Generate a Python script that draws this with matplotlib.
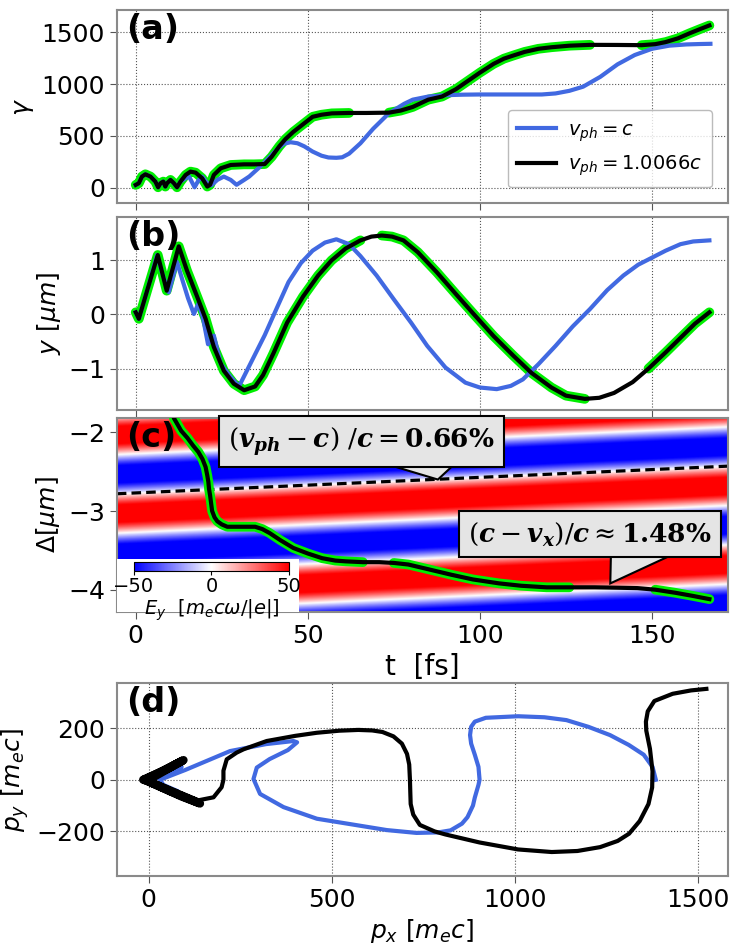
import numpy as np
import matplotlib
matplotlib.use('Agg')
import matplotlib.pyplot as plt
from matplotlib.patches import Rectangle, Polygon

plt.rcParams['font.family'] = ['DejaVu Sans']
plt.rcParams['mathtext.fontset'] = 'dejavusans'

blue = 'royalblue'
green = '#00ee00'

# ---- (a) gamma vs t ----
t_ga_blue = [0, 0.9, 1.8, 2.8, 4.3, 5.7, 6.5, 7.2, 8.0, 8.6, 9.1, 10.1, 11.1, 12, 13, 14.5, 15.5, 17.1,
             18.3, 19.3, 20.8, 22, 23.7, 25.6, 27.6, 29.3, 31.5, 33, 36, 39, 41, 43, 45, 47, 49, 51.4,
             54, 56, 58.3, 60, 62, 65.3, 69, 73.6, 78, 80.5, 85, 90, 95, 100, 106, 112, 118, 122, 126,
             130, 135, 140, 145, 150, 155, 160, 164, 167]
ga_blue = [29, 45, 109, 131, 109, 61, 6, 45, 61, 13, 45, 77, 45, 6, 61, 93, 110, 6,
           77, 109, 45, 25, 77, 109, 77, 30, 77, 110, 200, 300, 370, 425, 440, 430, 400, 350,
           310, 293, 290, 295, 330, 430, 570, 720, 810, 850, 880, 893, 898, 900, 900, 900, 900, 910, 935,
           975, 1070, 1190, 1280, 1340, 1370, 1382, 1386, 1388]

t_ga_black = [0, 0.9, 1.8, 2.8, 4.3, 5.7, 6.5, 7.2, 8.0, 8.6, 9.1, 10.1, 11.1, 12, 13, 14.5, 15.9, 17.4,
              19.3, 20.8, 21.6, 22.7, 24.7, 27.6, 31.5, 34.4, 37.5, 39.5, 41.7, 43.5, 45.8, 48.5, 51.4,
              54, 57, 62, 67, 73.6, 77, 80.5, 85, 89, 93, 96.5, 100, 104, 107, 109.7, 113, 117, 120.8,
              126, 132, 140, 147, 151, 154, 157.5, 161, 164, 166.7]
ga_black = [29, 45, 109, 131, 109, 61, 6, 45, 61, 13, 45, 77, 45, 6, 61, 125, 157, 147,
            93, 13, 30, 125, 189, 221, 227, 227, 230, 300, 400, 470, 540, 610, 685,
            705, 718, 722, 722, 725, 745, 780, 850, 880, 950, 1030, 1110, 1195, 1245, 1275, 1310, 1340, 1355,
            1370, 1378, 1377, 1375, 1385, 1405, 1440, 1490, 1530, 1565]

# ---- (b) y vs t ----
t_y_blue = [0, 0.9, 3.3, 6.2, 7.6, 9.6, 12, 13.5, 15.2, 16.9, 18.2, 19.5, 21.0, 22.7, 24.7, 27.5, 30.0,
            33, 37.5, 41, 44.4, 48, 51.4, 55, 58.3, 62, 65.3, 70, 75, 80, 84.7, 90, 95.8, 100, 104.9,
            109, 112.5, 117, 122, 127, 132, 137, 141.7, 146, 150, 154, 158.3, 162, 166.7]
y_blue = [0.04, -0.08, 0.44, 1.1, 0.78, 0.41, 0.97, 0.65, 0.3, 0.01, 0.2, -0.05, -0.55, -0.39, -0.91,
          -1.15, -1.33, -0.95, -0.38, 0.12, 0.6, 0.95, 1.18, 1.33, 1.39, 1.3, 1.08, 0.72, 0.28, -0.15,
          -0.58, -0.98, -1.26, -1.35, -1.38, -1.32, -1.2, -0.92, -0.58, -0.22, 0.1, 0.45, 0.72, 0.92,
          1.05, 1.18, 1.3, 1.35, 1.37]

t_y_black = [0, 0.9, 3.3, 6.4, 9.0, 12.5, 14.9, 17.9, 20.3, 22.7, 25.6, 28.5, 31.5, 34.7, 37, 40, 44,
             48.6, 53, 56.9, 61, 65.3, 68.5, 71.5, 74.5, 77.8, 82, 87.5, 93, 98.6, 104, 109.7, 115,
             120.8, 125, 130.5, 134.7, 139, 144.4, 149, 154, 158, 162.5, 166.7]
y_black = [0.04, -0.08, 0.44, 1.1, 0.44, 1.26, 0.81, 0.32, -0.08, -0.6, -1.04, -1.28, -1.4, -1.33,
           -1.12, -0.72, -0.15, 0.33, 0.72, 1.0, 1.22, 1.37, 1.44, 1.46, 1.44, 1.37, 1.15, 0.78, 0.38,
           -0.02, -0.4, -0.76, -1.08, -1.35, -1.5, -1.56, -1.54, -1.45, -1.25, -1.0, -0.7, -0.45,
           -0.17, 0.04]

# ---- (c) Delta vs t ----
t_d_black = [10.5, 11.1, 13.2, 15, 16.7, 18.2, 19.4, 20.3, 20.8, 21.1, 21.3, 21.6, 22.2, 22.9, 23.7,
             25.0, 26.6, 29.2, 32, 34.7, 36.8, 38.9, 42, 45.8, 50, 54.2, 58, 61.1, 66, 70.8, 75, 79.2,
             85, 91.7, 98, 105.6, 112, 119.4, 126, 133.3, 140, 145.8, 151, 156.9, 162, 166.7]
d_black = [-1.70, -1.82, -1.98, -2.07, -2.17, -2.25, -2.34, -2.44, -2.55, -2.63, -2.72, -2.8, -3.0,
           -3.08, -3.13, -3.17, -3.2, -3.2, -3.2, -3.2, -3.23, -3.28, -3.37, -3.47, -3.54, -3.6, -3.63,
           -3.64, -3.65, -3.65, -3.66, -3.68, -3.74, -3.81, -3.87, -3.92, -3.95, -3.97, -3.97, -3.97,
           -3.975, -3.98, -4.0, -4.04, -4.08, -4.12]

# green highlighted time windows on the black trajectory
green_windows = [(0, 32), (34, 66), (71, 132), (146, 168)]

# laser field parameters for the background of (c)
field_amp = 65.0          # m_e c omega / |e|
wavelength = 1.0          # um
delta_zero = -2.77        # um, zero crossing at t = 0
drift = 0.0066 * 0.2998   # um/fs, (v_ph - c)

# callouts in (c): text, box centre, pointed-at spot
callout_texts = [r'$(\mathbfit{v_{ph}} - \mathbfit{c})\ /\mathbfit{c} = \mathbf{0.66\%}$',
                 r'$(\mathbfit{c} - \mathbfit{v_x})/\mathbfit{c} \approx \mathbf{1.48\%}$']
callout_centres = [(65.5, -2.12), (132, -3.29)]
callout_tips = [(87.8, -2.6), (137.9, -3.92)]

# ---- (d) py vs px ----
px_blue = [0, 60, 90, 30, 5, 45, 80, 40, 31, 100, 222, 320, 395, 405, 380, 330, 295, 286, 304, 368, 459,
           572, 650, 731, 790, 824, 855, 870, 885, 890, 900, 903, 900, 890, 880, 877, 880, 890, 920,
           1008, 1080, 1140, 1200, 1259, 1310, 1351, 1375, 1384]
py_blue = [0, 35, 50, 10, 0, -35, -45, -20, 0, 38, 111, 138, 150, 145, 115, 80, 47, 3, -55, -106, -151,
           -177, -195, -206, -204, -196, -170, -145, -100, -69, -20, 0, 50, 97, 140, 173, 205, 225, 240,
           246, 242, 231, 205, 173, 135, 97, 50, 0]

px_black = [0, 50, 95, 60, -5, -15, -5, 60, 140, 90, -8, -12, 40, 90, 50, -10, 55, 135, 131, 177, 199,
            204, 204, 213, 240, 259, 322, 400, 459, 520, 572, 610, 638, 668, 691, 705, 711, 713, 714,
            715, 722, 740, 780, 810, 903, 1008, 1100, 1170, 1232, 1280, 1311, 1340, 1364, 1374, 1375,
            1368, 1358, 1357, 1362, 1380, 1430, 1480, 1522]
py_black = [0, 40, 76, 50, 3, 0, -4, -45, -92, -65, -2, 2, 35, 72, 42, 0, -40, -88, -81, -68, -29,
            0, 35, 79, 105, 118, 150, 170, 182, 190, 193, 191, 185, 168, 140, 100, 59, 0, -50,
            -94, -135, -175, -200, -212, -243, -270, -280, -276, -261, -237, -209, -160, -94, -30, 33,
            120, 190, 225, 265, 305, 333, 346, 352]
n_early = 18  # points of the tight near-origin oscillations


def green_part(t, v):
    t = np.asarray(t, float)
    v = np.asarray(v, float)
    out = np.full_like(v, np.nan)
    for lo, hi in green_windows:
        m = (t >= lo) & (t <= hi)
        out[m] = v[m]
    return out


def style_axes(ax, grid=True):
    for sp in ax.spines.values():
        sp.set_color('#8a8a8a')
        sp.set_linewidth(1.5)
    ax.tick_params(labelsize=18, length=5, color='#555555')
    if grid:
        ax.grid(True, linestyle=':', color='#555555', linewidth=0.8)


fig = plt.figure(figsize=(7.44, 9.44), dpi=100)
left, width = 0.157, 0.821
ax_a = fig.add_axes([left, 0.785, width, 0.204])
ax_b = fig.add_axes([left, 0.566, width, 0.204])
ax_c = fig.add_axes([left, 0.352, width, 0.205])
ax_d = fig.add_axes([left, 0.072, width, 0.204])

tlim = (-5.5, 172)

# (a)
ax_a.plot(t_ga_black, green_part(t_ga_black, ga_black), color=green, lw=7, solid_capstyle='round')
ax_a.plot(t_ga_blue, ga_blue, color=blue, lw=3, label=r'$v_{ph} = c$')
ax_a.plot(t_ga_black, ga_black, color='black', lw=3, label=r'$v_{ph} = 1.0066c$')
ax_a.set_xlim(tlim)
ax_a.set_ylim(-145, 1710)
ax_a.set_yticks([0, 500, 1000, 1500])
ax_a.set_xticks([0, 50, 100, 150])
ax_a.set_xticklabels([])
ax_a.set_ylabel(r'$\gamma$', fontsize=18)
leg = ax_a.legend(loc='lower right', fontsize=14, handlelength=2.0, borderpad=0.5,
                  labelspacing=0.5, handletextpad=0.6, bbox_to_anchor=(0.99, 0.03))
leg.get_frame().set_edgecolor('#aaaaaa')
style_axes(ax_a)

# (b)
ax_b.plot(t_y_black, green_part(t_y_black, y_black), color=green, lw=7, solid_capstyle='round')
ax_b.plot(t_y_blue, y_blue, color=blue, lw=3)
ax_b.plot(t_y_black, y_black, color='black', lw=3)
ax_b.set_xlim(tlim)
ax_b.set_ylim(-1.76, 1.80)
ax_b.set_yticks([-1, 0, 1])
ax_b.set_xticks([0, 50, 100, 150])
ax_b.set_xticklabels([])
ax_b.set_ylabel(r'$y\ [\mu m]$', fontsize=18)
style_axes(ax_b)

# (c)
dlim = (-4.28, -1.82)
tt = np.linspace(tlim[0], tlim[1], 400)
dd = np.linspace(dlim[0], dlim[1], 300)
T, D = np.meshgrid(tt, dd)
field = -field_amp * np.sin(2 * np.pi * (D - delta_zero - drift * T) / wavelength)
im = ax_c.imshow(field, extent=[tlim[0], tlim[1], dlim[0], dlim[1]], origin='lower',
                 cmap='bwr', vmin=-50, vmax=50, aspect='auto', interpolation='bilinear', zorder=0)
ax_c.plot(tt, delta_zero + drift * tt, color='black', lw=2.3, ls='--', dashes=(3, 1.6), zorder=2)
ax_c.plot(t_d_black, green_part(t_d_black, d_black), color=green, lw=7, solid_capstyle='round', zorder=3)
ax_c.plot(t_d_black, d_black, color='black', lw=3, zorder=4)
ax_c.set_xlim(tlim)
ax_c.set_ylim(dlim)
ax_c.set_yticks([-4, -3, -2])
ax_c.set_xticks([0, 50, 100, 150])
ax_c.set_ylabel(r'$\Delta[\mu m]$', fontsize=18)
ax_c.set_xlabel('t  [fs]', fontsize=20)
style_axes(ax_c, grid=False)

box = dict(boxstyle='square,pad=0.35', fc='#e5e5e5', ec='black', lw=1.5)
callouts = []
for txt, (cx, cy) in zip(callout_texts, callout_centres):
    callouts.append(ax_c.text(cx, cy, txt, ha='center', va='center', fontsize=19,
                              math_fontfamily='dejavuserif', bbox=box, zorder=6))

ax_c.add_patch(Rectangle((0, 0), 0.298, 0.27, transform=ax_c.transAxes, fc='white', ec='none', zorder=5))
cax = ax_c.inset_axes([0.028, 0.21, 0.254, 0.047])
cax.set_zorder(7)
cb = fig.colorbar(im, cax=cax, orientation='horizontal', ticks=[-50, 0, 50])
cb.ax.tick_params(labelsize=14, length=3, pad=1)
cb.set_label(r'$E_y\ \ [m_e c\omega/|e|]$', fontsize=14, labelpad=1)
cb.outline.set_linewidth(0.8)

# (d)
ax_d.plot(px_blue, py_blue, color=blue, lw=3)
ax_d.plot(px_black, py_black, color='black', lw=3)
ax_d.plot(px_black[:n_early], py_black[:n_early], color='black', lw=6, solid_capstyle='round')
ax_d.set_xlim(-87, 1580)
ax_d.set_ylim(-373, 373)
ax_d.set_xticks([0, 500, 1000, 1500])
ax_d.set_yticks([-200, 0, 200])
ax_d.set_xlabel(r'$p_x\ [m_e c]$', fontsize=18)
ax_d.set_ylabel(r'$p_y\ [m_e c]$', fontsize=18)
style_axes(ax_d)

for ax, lab in zip([ax_a, ax_b, ax_c, ax_d], ['(a)', '(b)', '(c)', '(d)']):
    ax.text(0.015, 0.985, lab, transform=ax.transAxes, fontsize=24, fontweight='bold',
            va='top', ha='left', zorder=8)

fig.align_ylabels([ax_a, ax_b, ax_c, ax_d])

# callout tails: a triangle from the bottom edge of each box (box drawn over its top)
fig.canvas.draw()
inv = ax_c.transData.inverted()
for txt, tip in zip(callouts, callout_tips):
    bb = txt.get_bbox_patch().get_window_extent()
    base_y = bb.y0 + 4
    p0 = inv.transform((bb.x0 + 0.58 * bb.width, base_y))
    p1 = inv.transform((bb.x0 + 0.83 * bb.width, base_y))
    ax_c.add_patch(Polygon([p0, tip, p1], closed=True, fc='#e5e5e5', ec='black', lw=1.5,
                           zorder=5.5, joinstyle='miter'))

fig.savefig('out.png', dpi=100)
